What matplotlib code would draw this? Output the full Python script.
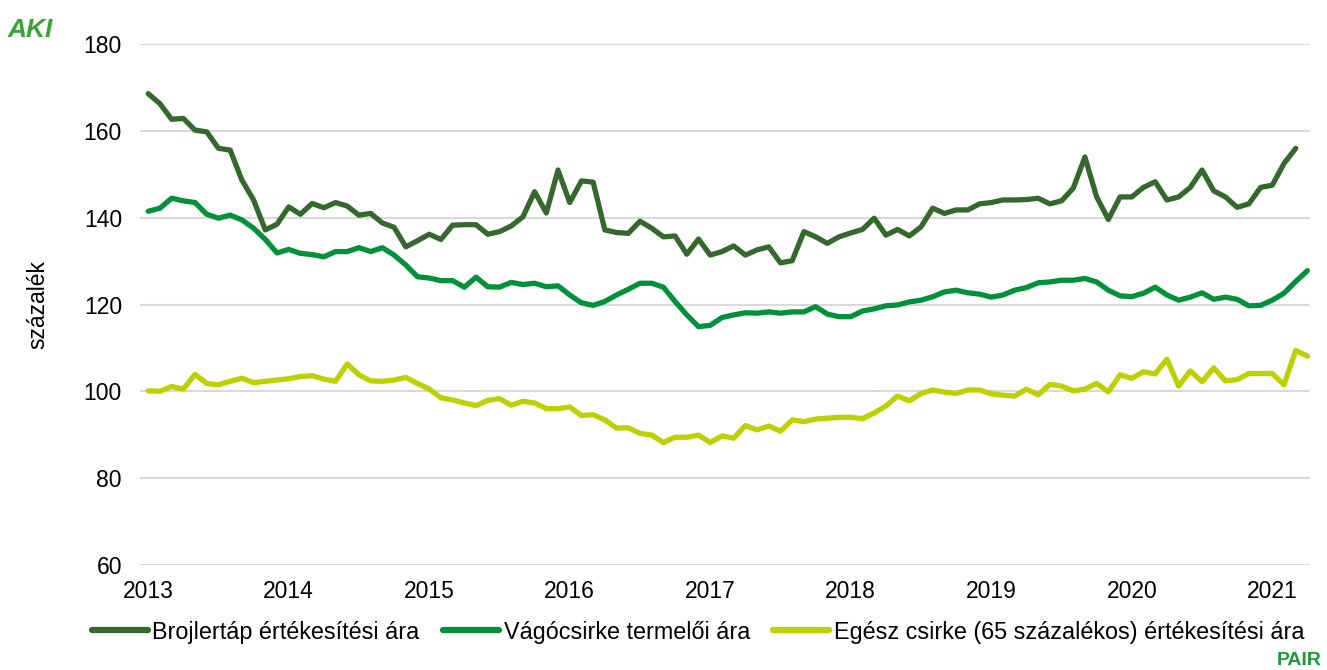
import numpy as np
import matplotlib
matplotlib.use("Agg")
import matplotlib.pyplot as plt

plt.rcParams['font.family'] = ['Liberation Sans', 'DejaVu Sans']

years = ['2013', '2014', '2015', '2016', '2017', '2018', '2019', '2020', '2021']

# havi adatok 2013 januártól
brojlertap = [168.6, 166.3, 162.7, 162.9, 160.2, 159.8, 156.0, 155.6, 148.7, 144.1, 137.2, 138.5,
              142.5, 140.8, 143.3, 142.3, 143.5, 142.7, 140.6, 141.0, 138.8, 137.8, 133.3, 134.7,
              136.2, 135.0, 138.3, 138.4, 138.4, 136.2, 136.8, 138.1, 140.2, 146.0, 141.1, 151.0,
              143.5, 148.5, 148.2, 137.2, 136.6, 136.4, 139.2, 137.6, 135.6, 135.8, 131.6, 135.1,
              131.4, 132.2, 133.5, 131.4, 132.6, 133.3, 129.6, 130.1, 136.8, 135.6, 134.1, 135.6,
              136.5, 137.3, 139.9, 136.0, 137.3, 135.8, 137.9, 142.2, 141.0, 141.8, 141.8, 143.2,
              143.5, 144.1, 144.1, 144.2, 144.5, 143.2, 143.9, 146.8, 154.0, 144.8, 139.6, 144.8,
              144.8, 147.0, 148.3, 144.1, 144.8, 147.0, 151.0, 146.2, 144.8, 142.4, 143.2, 147.0,
              147.5, 152.5, 156.0]

vagocsirke = [141.5, 142.2, 144.5, 143.9, 143.5, 140.8, 139.9, 140.6, 139.5, 137.6, 135.0, 131.9,
              132.7, 131.8, 131.5, 131.0, 132.2, 132.2, 133.1, 132.2, 133.1, 131.4, 129.1, 126.4,
              126.1, 125.5, 125.5, 124.0, 126.3, 124.1, 124.0, 125.1, 124.6, 124.9, 124.1, 124.3,
              122.2, 120.4, 119.8, 120.7, 122.2, 123.5, 124.9, 124.9, 124.0, 120.7, 117.6, 114.9,
              115.2, 117.0, 117.6, 118.1, 118.0, 118.3, 118.0, 118.3, 118.3, 119.5, 117.8, 117.2,
              117.2, 118.5, 119.0, 119.7, 119.9, 120.6, 121.0, 121.8, 122.9, 123.3, 122.7, 122.4,
              121.7, 122.2, 123.3, 123.9, 125.0, 125.2, 125.6, 125.6, 126.0, 125.2, 123.3, 122.0,
              121.8, 122.6, 124.0, 122.2, 121.0, 121.7, 122.7, 121.2, 121.7, 121.2, 119.7, 119.8,
              121.0, 122.6, 125.3, 127.8]

egesz_csirke = [100.1, 100.0, 101.1, 100.5, 103.9, 101.8, 101.5, 102.3, 103.0, 102.0, 102.3, 102.6,
                102.9, 103.4, 103.6, 102.8, 102.3, 106.3, 103.8, 102.4, 102.3, 102.6, 103.2, 101.8,
                100.5, 98.5, 98.0, 97.3, 96.7, 97.9, 98.3, 96.8, 97.7, 97.3, 96.0, 96.0,
                96.4, 94.4, 94.6, 93.4, 91.5, 91.6, 90.3, 89.9, 88.2, 89.4, 89.4, 89.9,
                88.2, 89.7, 89.2, 92.1, 91.1, 92.0, 90.8, 93.4, 93.0, 93.6, 93.8, 94.0,
                94.0, 93.7, 95.0, 96.6, 98.9, 97.8, 99.5, 100.3, 99.8, 99.5, 100.3, 100.3,
                99.4, 99.1, 98.9, 100.5, 99.2, 101.6, 101.2, 100.1, 100.5, 101.8, 99.9, 103.8,
                103.0, 104.5, 104.0, 107.4, 101.2, 104.7, 102.2, 105.4, 102.4, 102.7, 104.1, 104.1,
                104.1, 101.5, 109.4, 108.1]

labels = ['Brojlertáp értékesítési ára', 'Vágócsirke termelői ára',
          'Egész csirke (65 százalékos) értékesítési ára']
colors = ['#35682d', '#00913a', '#bdd000']

fig = plt.figure(figsize=(13.27, 6.70), dpi=100)
ax = fig.add_axes([0.1055, 0.157, 0.8815, 0.777])

for vals, lab, col in zip([brojlertap, vagocsirke, egesz_csirke], labels, colors):
    ax.plot(np.arange(len(vals)), vals, color=col, lw=3.8, label=lab,
            solid_joinstyle='round', solid_capstyle='round')

ax.set_ylim(60, 180)
ax.set_yticks(np.arange(60, 181, 20))
ax.set_xlim(-0.7, 99.2)
ax.set_xticks(np.arange(0, 97, 12))
ax.set_xticklabels(years)
ax.grid(axis='y', color='#d9d9d9', lw=1.5)
ax.set_axisbelow(True)
for s in ax.spines.values():
    s.set_visible(False)
ax.tick_params(length=0, labelsize=16.5)
ax.tick_params(axis='y', pad=13)
ax.tick_params(axis='x', pad=11)
ax.set_ylabel('százalék', fontsize=16.5, labelpad=25)

leg = fig.legend(loc='lower center', bbox_to_anchor=(0.526, 0.008), ncol=3, frameon=False,
                 fontsize=16.8, handlelength=2.4, handletextpad=0.2, columnspacing=1.0)
for h in leg.get_lines():
    h.set_linewidth(4.5)

# logók
fig.text(0.006, 0.945, 'AKI', color='#3aa335', fontsize=19, fontweight='bold',
         fontstyle='italic')
fig.text(0.962, 0.008, 'PAIR', color='#1f9a3a', fontsize=14, fontweight='bold')

fig.savefig('out.png', dpi=100)
